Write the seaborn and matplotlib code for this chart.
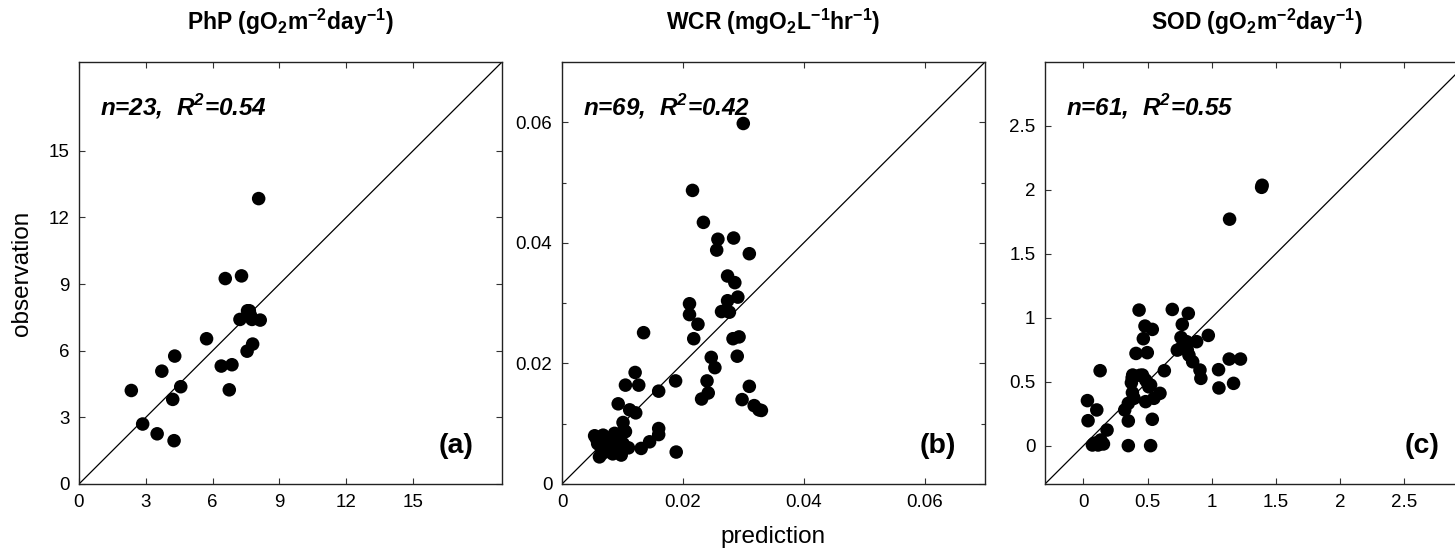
import numpy as np
import pandas as pd
import matplotlib
matplotlib.use("Agg")
import matplotlib.pyplot as plt
import seaborn as sns

# ---------------- data ----------------
php_pred = [8.07, 6.57, 7.30, 7.57, 7.65, 7.70, 7.23, 7.77, 8.14, 7.80, 7.55, 5.73,
            4.30, 3.72, 4.57, 2.35, 4.21, 6.39, 6.87, 6.75, 2.86, 3.51, 4.27]
php_obs = [12.85, 9.25, 9.37, 7.80, 7.80, 7.60, 7.41, 7.41, 7.38, 6.30, 5.98, 6.54,
           5.76, 5.08, 4.38, 4.21, 3.81, 5.31, 5.37, 4.24, 2.70, 2.26, 1.95]

wcr_pred = [0.0300, 0.0216, 0.0234, 0.0258, 0.0256, 0.0284, 0.0310, 0.0274, 0.0286, 0.0291,
            0.0274, 0.0264, 0.0277, 0.0211, 0.0211, 0.0225, 0.0218, 0.0283, 0.0293, 0.0290,
            0.0247, 0.0253, 0.0240, 0.0242, 0.0231, 0.0310, 0.0298, 0.0318, 0.0326, 0.0330,
            0.0135, 0.0121, 0.0105, 0.0127, 0.0160, 0.0188, 0.0093, 0.0112, 0.0122, 0.0101,
            0.0105, 0.0104, 0.0160, 0.0160, 0.0145, 0.0131, 0.0189, 0.0054, 0.0068, 0.0062,
            0.0073, 0.0079, 0.0087, 0.0095, 0.0098, 0.0103, 0.0076, 0.0090, 0.0059, 0.0070,
            0.0081, 0.0101, 0.0065, 0.0087, 0.0057, 0.0066, 0.0084, 0.0110, 0.0092]
wcr_obs = [0.0598, 0.0487, 0.0434, 0.0406, 0.0388, 0.0408, 0.0382, 0.0345, 0.0334, 0.0310,
           0.0304, 0.0286, 0.0285, 0.0299, 0.0281, 0.0265, 0.0241, 0.0241, 0.0244, 0.0212,
           0.0210, 0.0193, 0.0171, 0.0151, 0.0141, 0.0162, 0.0140, 0.0130, 0.0123, 0.0122,
           0.0251, 0.0185, 0.0164, 0.0164, 0.0154, 0.0171, 0.0133, 0.0123, 0.0118, 0.0102,
           0.0087, 0.0087, 0.0092, 0.0082, 0.0070, 0.0059, 0.0053, 0.0080, 0.0081, 0.0045,
           0.0062, 0.0073, 0.0084, 0.0078, 0.0048, 0.0059, 0.0054, 0.0065, 0.0067, 0.0070,
           0.0059, 0.0067, 0.0059, 0.0070, 0.0075, 0.0050, 0.0050, 0.0060, 0.0080]

sod_pred = [1.394, 1.390, 1.140, 0.434, 0.693, 0.818, 0.771, 0.480, 0.537, 0.467, 0.761,
            0.805, 0.883, 0.974, 0.732, 0.810, 0.823, 0.852, 0.410, 0.498, 1.137, 1.225,
            1.054, 0.909, 0.916, 1.057, 1.171, 0.631, 0.130, 0.384, 0.460, 0.485, 0.374,
            0.524, 0.382, 0.597, 0.550, 0.395, 0.485, 0.350, 0.322, 0.031, 0.104, 0.036,
            0.350, 0.537, 0.184, 0.135, 0.083, 0.114, 0.156, 0.070, 0.350, 0.524, 0.380,
            0.500, 0.440, 0.780, 0.760, 0.510, 0.100]
sod_obs = [2.036, 2.020, 1.771, 1.060, 1.065, 1.034, 0.948, 0.935, 0.909, 0.836, 0.846,
           0.813, 0.813, 0.862, 0.747, 0.747, 0.708, 0.656, 0.721, 0.727, 0.677, 0.677,
           0.594, 0.591, 0.526, 0.451, 0.487, 0.586, 0.586, 0.552, 0.552, 0.513, 0.492,
           0.474, 0.414, 0.409, 0.370, 0.370, 0.344, 0.331, 0.279, 0.352, 0.279, 0.195,
           0.193, 0.206, 0.122, 0.044, 0.018, 0.005, 0.013, 0.005, 0.000, 0.000, 0.530,
           0.490, 0.550, 0.800, 0.760, 0.460, 0.020]

titles = ["PhP (gO$_\\mathregular{2}$m$^\\mathregular{-2}$day$^\\mathregular{-1}$)",
          "WCR (mgO$_\\mathregular{2}$L$^\\mathregular{-1}$hr$^\\mathregular{-1}$)",
          "SOD (gO$_\\mathregular{2}$m$^\\mathregular{-2}$day$^\\mathregular{-1}$)"]
stats = ["n=23,  R$^\\mathregular{2}$=0.54", "n=69,  R$^\\mathregular{2}$=0.42",
         "n=61,  R$^\\mathregular{2}$=0.55"]
panel_tags = ["(a)", "(b)", "(c)"]
limits = [(0, 19), (0, 0.07), (-0.3, 3.0)]
ticks_a = [0, 3, 6, 9, 12, 15]
tick_labels_a = ["0", "3", "6", "9", "12", "15"]
ticks_b = [0, 0.02, 0.04, 0.06]
tick_labels_b = ["0", "0.02", "0.04", "0.06"]
minor_b = [0.01, 0.03, 0.05]
ticks_c = [0, 0.5, 1, 1.5, 2, 2.5]
tick_labels_c = ["0", "0.5", "1", "1.5", "2", "2.5"]

# ---------------- style ----------------
sns.set_style("ticks")
plt.rcParams["font.family"] = ["Liberation Sans", "DejaVu Sans"]
plt.rcParams["mathtext.fontset"] = "custom"
plt.rcParams["text.color"] = "black"
plt.rcParams["axes.labelcolor"] = "black"
plt.rcParams["xtick.color"] = "black"
plt.rcParams["ytick.color"] = "black"

W, H = 1455, 553
fig = plt.figure(figsize=(W / 100, H / 100), dpi=100)

lefts = [79, 562, 1045]
top, bottom = 62, 484
aw, ah = 423, 422

datasets = [
    pd.DataFrame({"prediction": php_pred, "observation": php_obs}),
    pd.DataFrame({"prediction": wcr_pred, "observation": wcr_obs}),
    pd.DataFrame({"prediction": sod_pred, "observation": sod_obs}),
]
tick_sets = [(ticks_a, tick_labels_a), (ticks_b, tick_labels_b), (ticks_c, tick_labels_c)]

for i in range(3):
    ax = fig.add_axes([lefts[i] / W, (H - bottom) / H, aw / W, ah / H])
    df = datasets[i]
    sns.scatterplot(data=df, x="prediction", y="observation", ax=ax,
                    color="black", s=95, linewidth=0, edgecolor="none", zorder=3)
    lo, hi = limits[i]
    ax.set_xlim(lo, hi)
    ax.set_ylim(lo, hi)
    ax.axline((0, 0), slope=1, color="black", lw=0.9, zorder=2)

    t, tl = tick_sets[i]
    ax.set_xticks(t)
    ax.set_xticklabels(tl)
    ax.set_yticks(t)
    ax.set_yticklabels(tl)
    if i == 1:
        ax.set_yticks(minor_b, minor=True)
    ax.tick_params(which="both", direction="in", top=True, right=True,
                   length=4, width=0.8, color="#333333", labelsize=13.5,
                   labelcolor="black", pad=7)
    ax.tick_params(which="minor", length=3)
    for sp in ax.spines.values():
        sp.set_visible(True)
        sp.set_color("#222222")
        sp.set_linewidth(1.0)

    ax.set_title(titles[i], fontsize=16.5, fontweight="bold", color="black", pad=23)
    ax.text(21 / aw, 1 - 53 / ah, stats[i], transform=ax.transAxes,
            fontsize=17.5, fontweight="bold", fontstyle="italic", color="black",
            ha="left", va="baseline")
    ax.text(1 - 29 / aw, 31 / ah, panel_tags[i], transform=ax.transAxes,
            fontsize=20.5, fontweight="bold", color="black", ha="right", va="baseline")

    if i == 0:
        ax.set_ylabel("observation", fontsize=17.5)
        ax.yaxis.set_label_coords(-0.108, 0.5)
    else:
        ax.set_ylabel("")
    if i == 1:
        ax.set_xlabel("prediction", fontsize=17.5)
        ax.xaxis.set_label_coords(0.5, -0.1)
    else:
        ax.set_xlabel("")

fig.savefig("out.png", dpi=100)
